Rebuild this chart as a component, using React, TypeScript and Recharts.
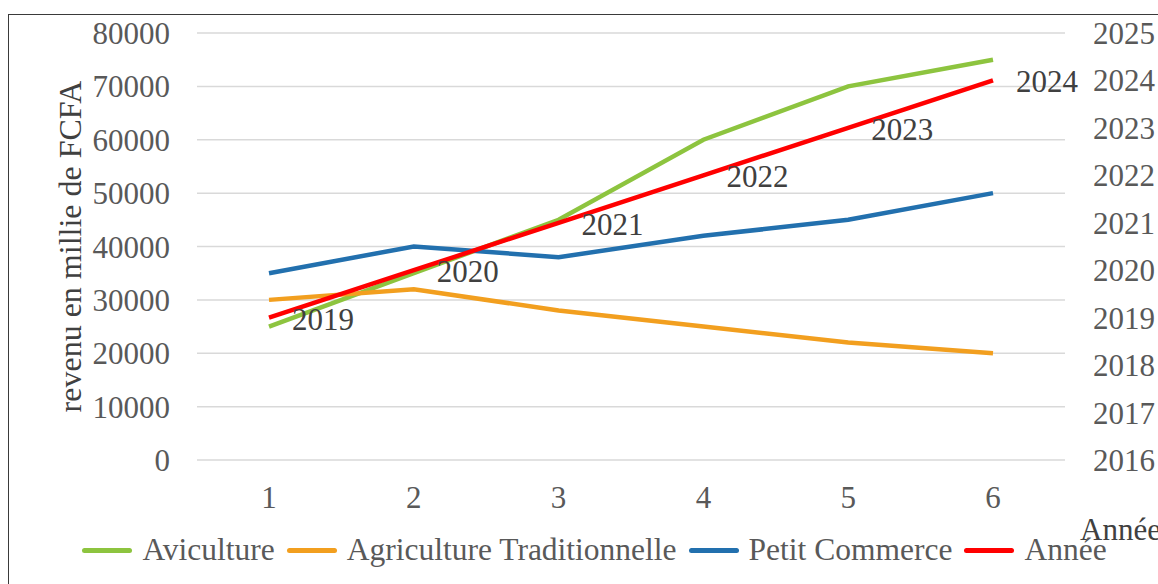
import { CartesianGrid, Legend, LabelList, Line, LineChart, XAxis, YAxis } from "recharts";

const categories = [1, 2, 3, 4, 5, 6];
const aviculture = [25000, 35000, 45000, 60000, 70000, 75000];
const agriculture = [30000, 32000, 28000, 25000, 22000, 20000];
const commerce = [35000, 40000, 38000, 42000, 45000, 50000];
const annees = [2019, 2020, 2021, 2022, 2023, 2024];
const leftTicks = [0, 10000, 20000, 30000, 40000, 50000, 60000, 70000, 80000];
const rightTicks = [2016, 2017, 2018, 2019, 2020, 2021, 2022, 2023, 2024, 2025];

const data = categories.map((c, i) => ({
  x: c,
  aviculture: aviculture[i],
  agriculture: agriculture[i],
  commerce: commerce[i],
  annee: annees[i]
}));

const font = "'Liberation Serif', 'Times New Roman', serif";
const tickColor = "#595959";
const tick = { fontSize: 31, fill: tickColor, fontFamily: font };
const grid = "#d9d9d9";

const series = [
  { key: "aviculture", name: "Aviculture", color: "#8dc43f" },
  { key: "agriculture", name: "Agriculture Traditionnelle", color: "#f29f1f" },
  { key: "commerce", name: "Petit Commerce", color: "#2270ae" },
  { key: "annee", name: "Année", color: "#ff0000" }
];

function YearLabel(props: any) {
  const { x, y, value } = props;
  return (
    <text x={x + 23} y={y + 12} fontSize={31} fill="#404040" fontFamily={font}>
      {value}
    </text>
  );
}

function LeftTitle(props: any) {
  const { viewBox } = props;
  const cy = viewBox.y + viewBox.height / 2;
  return (
    <text
      x={61}
      y={cy}
      transform={`rotate(-90, 61, ${cy})`}
      textAnchor="middle"
      dominantBaseline="central"
      fontSize={32}
      fill="#404040"
      fontFamily={font}
    >
      revenu en millie de FCFA
    </text>
  );
}

function RightTitle(props: any) {
  const { viewBox } = props;
  return (
    <text x={viewBox.x + 15} y={viewBox.y + viewBox.height + 80} fontSize={31} fill="#404040" fontFamily={font}>
      Année
    </text>
  );
}

function LegendContent() {
  return (
    <div style={{ display: "flex", justifyContent: "center", alignItems: "center", height: 40, paddingLeft: 34 }}>
      {series.map((s) => (
        <div key={s.key} style={{ display: "flex", alignItems: "center", marginRight: 12 }}>
          <span style={{ display: "inline-block", width: 50, height: 5, borderRadius: 3, background: s.color, marginRight: 10 }} />
          <span style={{ fontSize: 31.5, color: tickColor, fontFamily: font, lineHeight: "40px" }}>{s.name}</span>
        </div>
      ))}
    </div>
  );
}

export default function App() {
  return (
    <div
      style={{
        position: "absolute",
        left: 8,
        top: 14,
        width: 1150,
        height: 570,
        borderLeft: "1.5px solid #3a3a3a",
        borderTop: "1.5px solid #3a3a3a",
        background: "#fff"
      }}
    >
      <LineChart width={1149} height={569} data={data} margin={{ top: 18, right: 0, left: 0, bottom: 14 }}>
        <CartesianGrid stroke={grid} strokeWidth={1.5} vertical={false} yAxisId="left" />
        <XAxis
          dataKey="x"
          axisLine={false}
          tickLine={false}
          tick={tick}
          tickMargin={20}
          height={70}
          padding={{ left: 72, right: 72 }}
        />
        <YAxis
          yAxisId="left"
          domain={[0, 80000]}
          ticks={leftTicks}
          axisLine={false}
          tickLine={false}
          tick={tick}
          tickMargin={21}
          width={188}
          label={<LeftTitle />}
        />
        <YAxis
          yAxisId="right"
          orientation="right"
          domain={[2016, 2025]}
          ticks={rightTicks}
          axisLine={false}
          tickLine={false}
          tick={tick}
          tickMargin={22}
          width={93}
          label={<RightTitle />}
        />
        <Legend verticalAlign="bottom" content={<LegendContent />} />
        <Line yAxisId="left" type="linear" dataKey="aviculture" name="Aviculture" stroke="#8dc43f" strokeWidth={4.5} dot={false} isAnimationActive={false} />
        <Line yAxisId="left" type="linear" dataKey="agriculture" name="Agriculture Traditionnelle" stroke="#f29f1f" strokeWidth={4.5} dot={false} isAnimationActive={false} />
        <Line yAxisId="left" type="linear" dataKey="commerce" name="Petit Commerce" stroke="#2270ae" strokeWidth={4.5} dot={false} isAnimationActive={false} />
        <Line yAxisId="right" type="linear" dataKey="annee" name="Année" stroke="#ff0000" strokeWidth={4.5} dot={false} isAnimationActive={false}>
          <LabelList dataKey="annee" content={<YearLabel />} />
        </Line>
      </LineChart>
    </div>
  );
}
